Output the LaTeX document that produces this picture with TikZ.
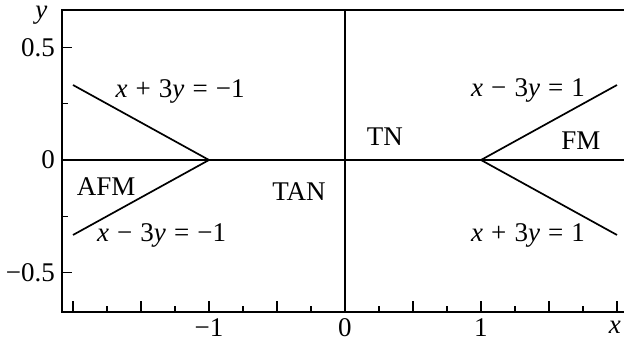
\documentclass[tikz,border=0pt]{standalone}
\usepackage{fontspec}
\setmainfont{Liberation Serif}
\newcommand{\opgap}{\hspace{0.3em}}
\begin{document}
\begin{tikzpicture}[x=68pt,y=112.5pt,
  lbl/.style={inner sep=0pt,font=\fontsize{13.5}{16}\selectfont},
  frame/.style={line width=0.7pt},
  thinl/.style={line width=0.55pt},
  diag/.style={line width=0.85pt},
  thick0/.style={line width=1.3pt}]
\useasboundingbox (-2.5368,-0.8089) rectangle (2.0515,0.7111);
% frame
\coordinate (tl) at (-2.081,0.667);
\coordinate (bl) at (-2.081,-0.676);
\coordinate (tr) at (2.0515,0.667);
\coordinate (br) at (2.0515,-0.676);
\draw[frame] (tr) -- (tl) -- (bl) -- (br);
% y ticks
\foreach \v/\l in {0.5/4.9pt,0.25/3.2pt,0/4.9pt,-0.25/3.2pt,-0.5/4.9pt}
  \draw[frame] (-2.081,\v) -- ++(\l,0);
% x ticks
\foreach \u in {-2,-1.5,-1,-0.5,0.5,1,1.5,2}
  \draw[thinl] (\u,-0.676) -- ++(0,5.5pt);
\foreach \u in {-1.75,-1.25,-0.75,-0.25,0.25,0.75,1.25,1.75}
  \draw[thinl] (\u,-0.676) -- ++(0,3pt);
% axes lines
\coordinate (o) at (0,0);
\coordinate (m1) at (-1,0);
\coordinate (p1) at (1,0);
\draw[thinl] (0,0.667) -- (0,-0.676);
\draw[thinl] (-2.081,0) -- (m1);
\draw[thinl] (p1) -- (2.0515,0);
\draw[thick0] (m1) -- (p1);
% boundary lines
\coordinate (a1) at (-2,0.3333);
\coordinate (a2) at (-2,-0.3333);
\coordinate (b1) at (2,0.3333);
\coordinate (b2) at (2,-0.3333);
\draw[diag] (a1) -- (m1) -- (a2);
\draw[diag] (b1) -- (p1) -- (b2);
% tick labels
\node[lbl,anchor=east] (y05) at (-2.13,0.5) {0.5};
\node[lbl,anchor=east] (y0) at (-2.13,0) {0};
\node[lbl,anchor=east] (ym05) at (-2.13,-0.5) {−0.5};
\node[lbl] (yl) at (-2.232,0.644) {\textit{y}};
\node[lbl] (xm1) at (-1,-0.747) {−1};
\node[lbl] (x0) at (0,-0.747) {0};
\node[lbl] (x1) at (1,-0.747) {1};
\node[lbl] (xl) at (1.985,-0.742) {\textit{x}};
% region labels
\node[lbl] (l1) at (-1.213,0.305) {\textit{x}\opgap+\opgap3\textit{y}\opgap=\opgap−1};
\node[lbl] (l2) at (-1.349,-0.336) {\textit{x}\opgap−\opgap3\textit{y}\opgap=\opgap−1};
\node[lbl] (l3) at (1.346,0.31) {\textit{x}\opgap−\opgap3\textit{y}\opgap=\opgap1};
\node[lbl] (l4) at (1.346,-0.336) {\textit{x}\opgap+\opgap3\textit{y}\opgap=\opgap1};
\node[lbl] (afm) at (-1.757,-0.12) {AFM};
\node[lbl] (tan) at (-0.338,-0.142) {TAN};
\node[lbl] (tn) at (0.294,0.102) {TN};
\node[lbl] (fm) at (1.735,0.085) {FM};
\end{tikzpicture}
\end{document}
